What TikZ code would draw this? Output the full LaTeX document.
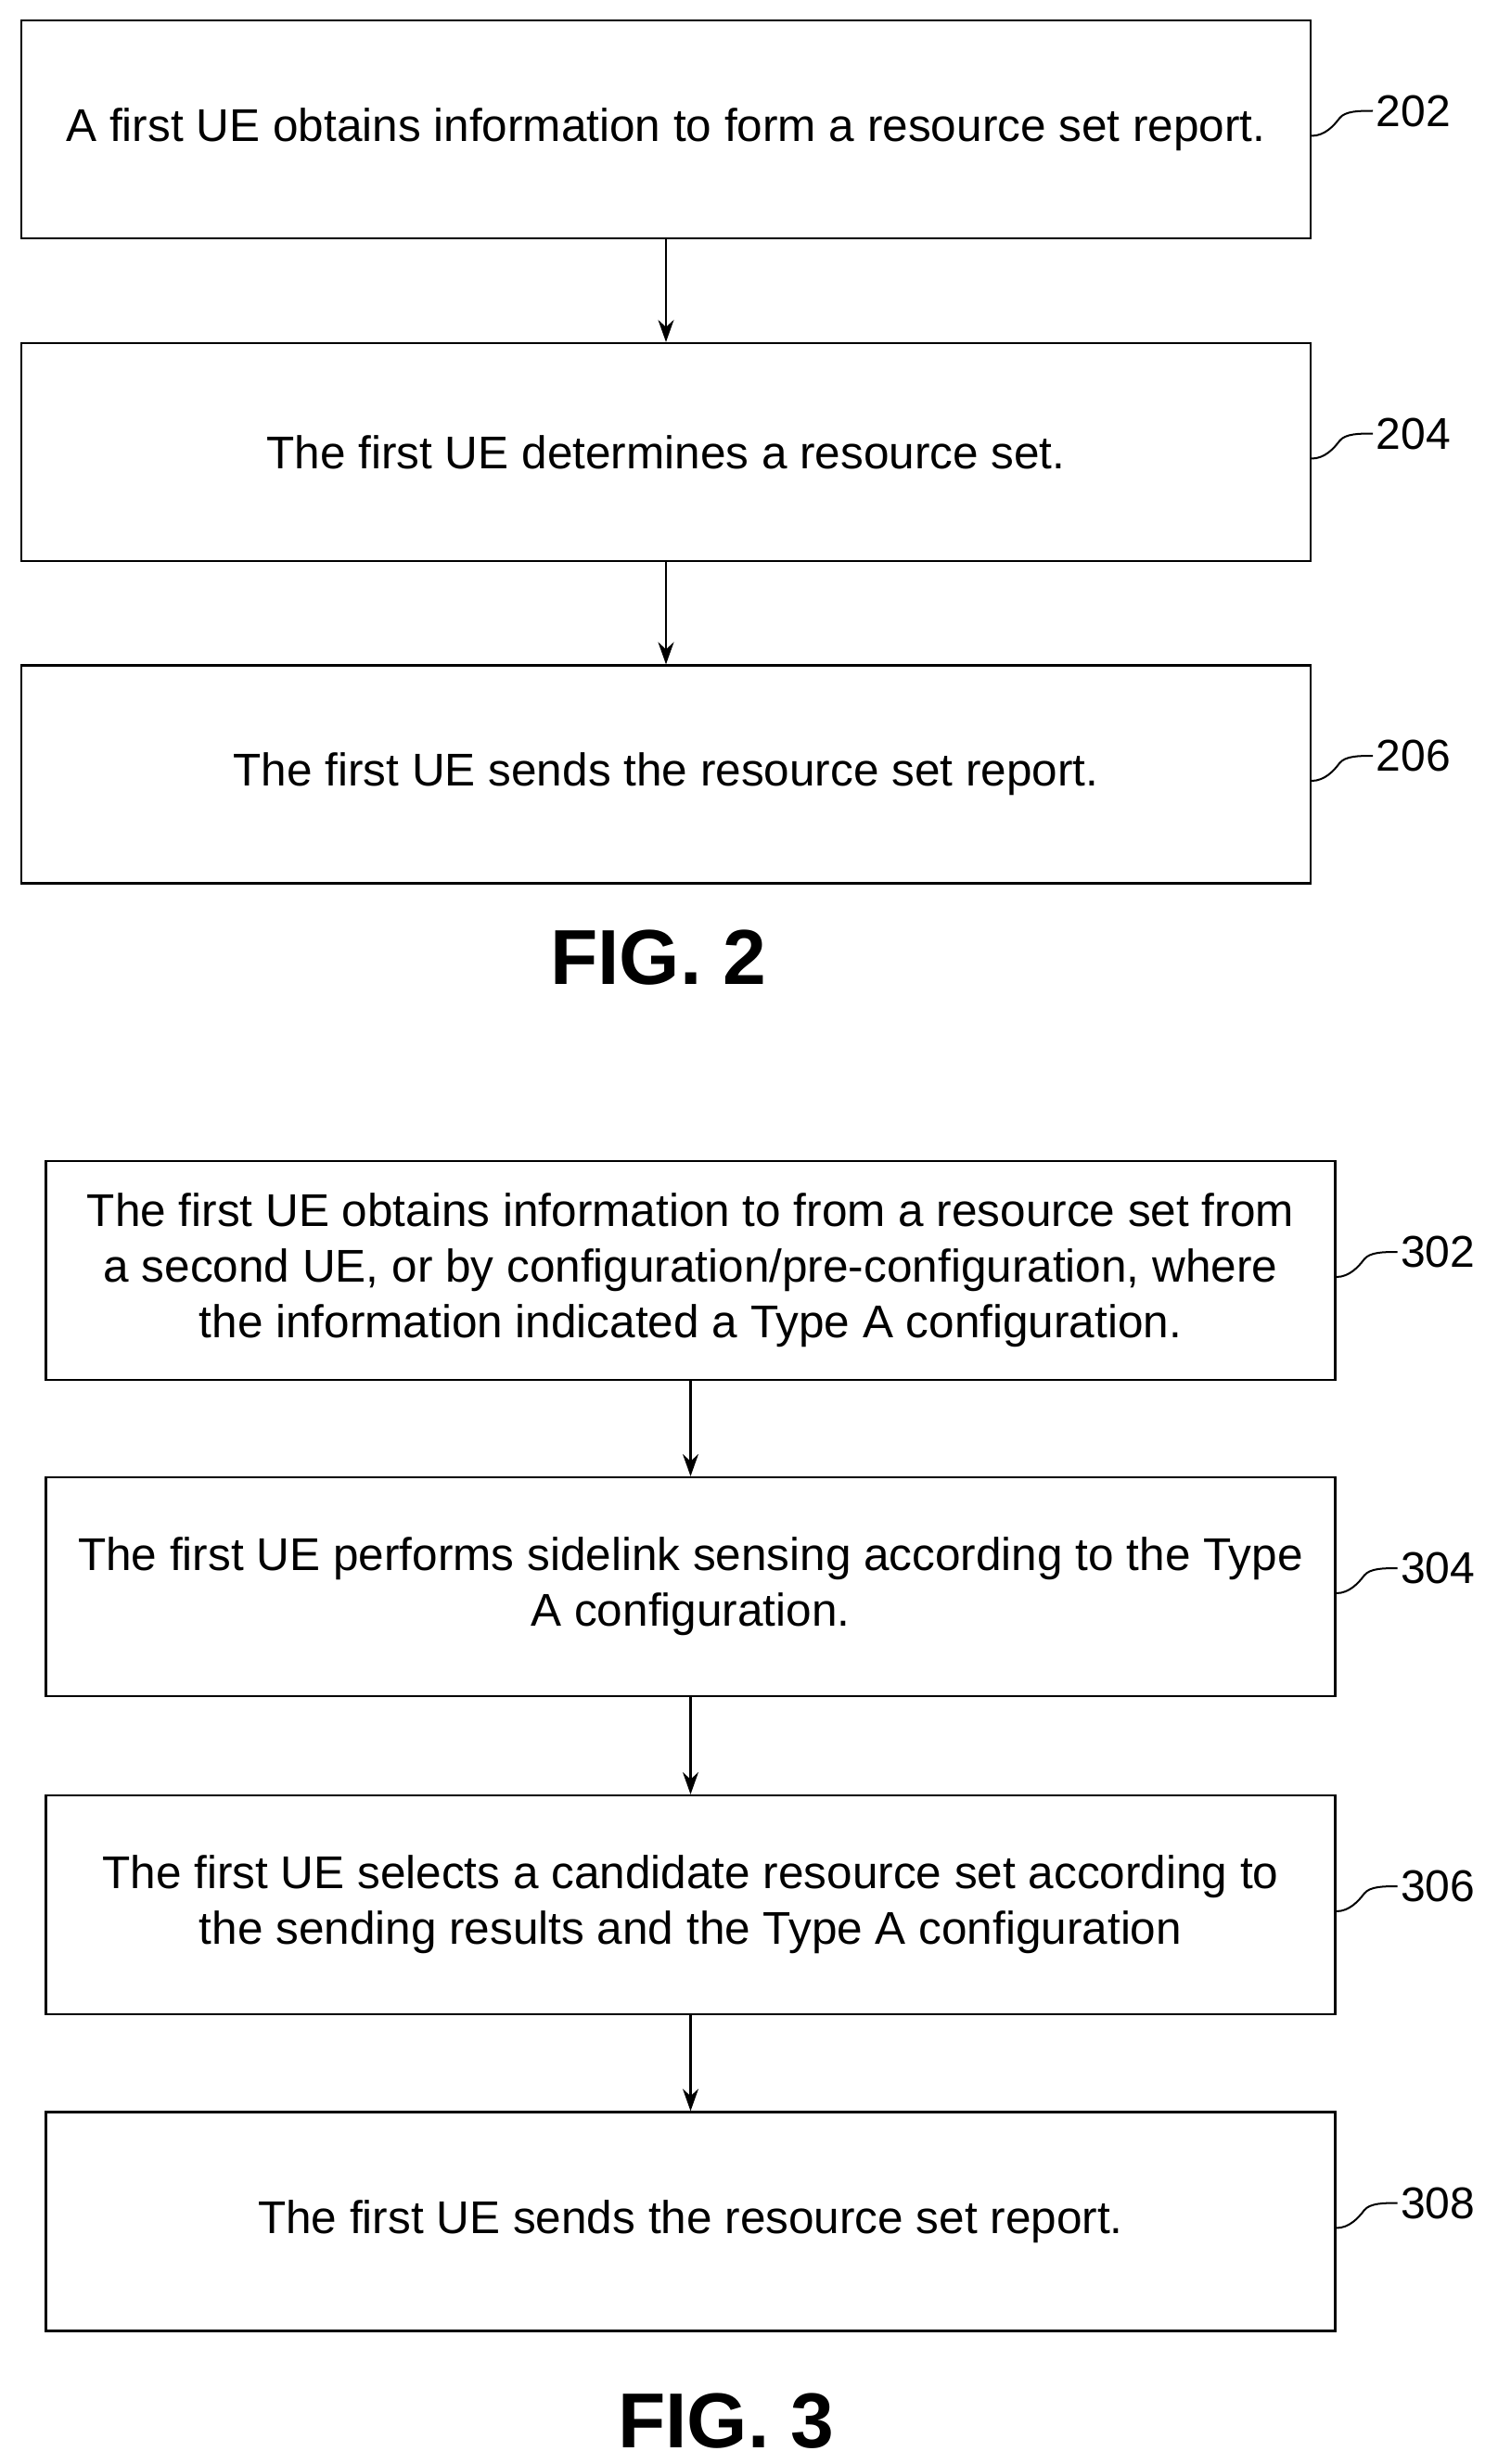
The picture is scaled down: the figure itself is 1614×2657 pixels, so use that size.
\documentclass[tikz,border=0pt]{standalone}
\usepackage{fontspec}
\setmainfont{Liberation Sans}
\usetikzlibrary{arrows.meta}
\begin{document}
\begin{tikzpicture}[x=1pt,y=-1pt,
 box/.style={draw,line width=2.2pt,minimum width=1390pt,minimum height=235pt,align=center,font=\fontsize{49.5}{60}\selectfont,inner sep=0pt},
 box3/.style={box,minimum width=1390pt,minimum height=236pt},
 arr/.style={-{Stealth[length=24pt,width=17pt]},line width=2.2pt},
 lbl/.style={font=\fontsize{48}{56}\selectfont,anchor=west},
 fig/.style={font=\bfseries\fontsize{84}{100}\selectfont}]
\useasboundingbox (0,0) rectangle (1614,2657);
\node[box] (b202) at (718,139.5) {A first UE obtains information to form a resource set report.};
\node[box] (b204) at (718,487.5) {The first UE determines a resource set.};
\node[box] (b206) at (718,835) {The first UE sends the resource set report.};
\draw[arr] (b202) -- (b204);
\draw[arr] (b204) -- (b206);
\node[fig] (f2) at (710,1033) {FIG. 2};
\node[box3] (b302) at (744.5,1370) {The first UE obtains information to from a resource set from\\a second UE, or by configuration/pre-configuration, where\\the information indicated a Type A configuration.};
\node[box3] (b304) at (744.5,1711) {The first UE performs sidelink sensing according to the Type\\A configuration.};
\node[box3] (b306) at (744.5,2054) {The first UE selects a candidate resource set according to\\the sending results and the Type A configuration};
\node[box3] (b308) at (744.5,2395.5) {The first UE sends the resource set report.};
\draw[arr] (b302) -- (b304);
\draw[arr] (b304) -- (b306);
\draw[arr] (b306) -- (b308);
\node[fig] (f3) at (783,2611) {FIG. 3};
\foreach \n/\lab in {b202/202,b204/204,b206/206,b302/302,b304/304,b306/306,b308/308}{
 \coordinate (s\lab) at ([yshift=-7pt]\n.east);
 \coordinate (m\lab) at ([xshift=30pt,yshift=12pt]\n.east);
 \node[lbl] (l\lab) at ([xshift=66pt,yshift=20pt]\n.east) {\lab};
 \draw[line width=2pt] (s\lab) .. controls ([xshift=14pt]s\lab) and ([xshift=-6pt,yshift=-8pt]m\lab) .. (m\lab) .. controls ([xshift=6pt,yshift=8pt]m\lab) and ([xshift=-14pt]l\lab.west) .. (l\lab.west);
}
\end{tikzpicture}
\end{document}
